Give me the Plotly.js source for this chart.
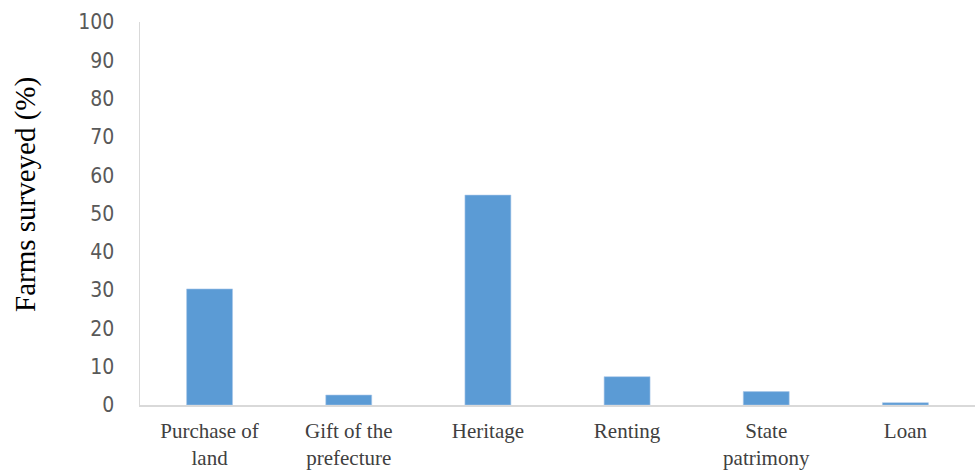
<!DOCTYPE html>
<html><head><meta charset="utf-8">
<script src="https://cdn.plot.ly/plotly-3.0.1.min.js"></script>
<style>html,body{margin:0;padding:0;background:#fff}</style>
</head><body><div id="chart" style="width:978px;height:470px"></div>
<script>
const categories = ["Purchase of<br>land", "Gift of the<br>prefecture", "Heritage", "Renting", "State<br>patrimony", "Loan"];
const values = [30.3, 2.6, 54.8, 7.4, 3.5, 0.6];
const yTicks = [0,10,20,30,40,50,60,70,80,90,100];
const yTitle = 'Farms surveyed (%)';

Plotly.newPlot('chart', [{
  type: 'bar', x: categories, y: values,
  marker: {color: '#5b9bd5', line: {color: '#a9c8ea', width: 0.6}},
  hoverinfo: 'none'
}], {
  width: 978, height: 470,
  margin: {l: 140, r: 3, t: 22, b: 65},
  paper_bgcolor: '#fff', plot_bgcolor: '#fff',
  bargap: 0.67,
  showlegend: false,
  xaxis: {
    showgrid: false, zeroline: false, showline: true, linecolor: '#d9d9d9', linewidth: 1.5,
    ticks: '', ticklabelstandoff: 6,
    tickfont: {family: 'Liberation Serif', size: 21, color: '#404040'},
    fixedrange: true
  },
  yaxis: {
    range: [0, 100], tickvals: yTicks, ticktext: yTicks.map(String),
    showgrid: false, zeroline: false, showline: true, linecolor: '#d9d9d9', linewidth: 1.5,
    ticks: '', ticklabelstandoff: 20,
    tickfont: {family: 'Liberation Sans Narrow, DejaVu Sans Condensed, sans-serif', size: 21, color: '#595959'},
    fixedrange: true
  },
  annotations: [{
    text: yTitle, textangle: -90, showarrow: false,
    xref: 'paper', yref: 'paper', x: (25 - 140) / 835, y: (405 - 195) / 383,
    xanchor: 'center', yanchor: 'middle',
    font: {family: 'Liberation Serif', size: 29, color: '#000'}
  }]
}, {displayModeBar: false, staticPlot: true});
</script></body></html>
